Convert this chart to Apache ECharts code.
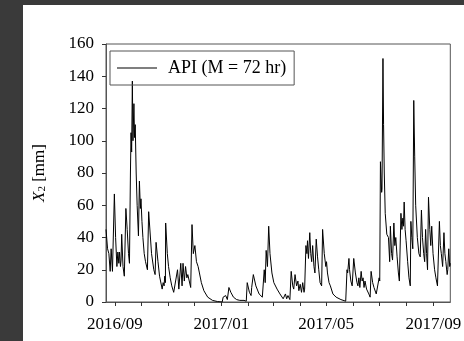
<!DOCTYPE html>
<html>
<head>
<meta charset="utf-8">
<script src="https://cdn.jsdelivr.net/npm/echarts@6/dist/echarts.min.js"></script>
<style>
	html, body { margin: 0; padding: 0; background: #3a3a3a; }
	#chart { position: absolute; left: 23px; top: 5px; width: 441px; height: 336px; background: #fff; }
</style>
</head>
<body>
<div id="chart"></div>
<script>
// days since 2016/09/01 and API value [mm]
var days = [-10.3, -8.5, -7.0, -5.5, -4.4, -2.9, -1.5, -0.7, 0.7, 2.2, 3.3, 4.4, 5.2, 6.3, 7.0, 7.7, 9.2, 10.7, 12.5, 14.0,
	15.5, 16.6, 17.7, 18.4, 19.1, 19.9, 20.6, 21.7, 22.4, 23.2, 24.3, 25.4, 26.9, 28.0, 29.1, 29.8, 30.9, 32.0, 33.5, 35.0,
	37.2, 38.6, 41.9, 44.5, 46.0, 47.1, 49.3, 51.1, 54.1, 55.2, 56.3, 57.0, 57.8, 58.1, 60.0, 61.4, 63.3, 65.1, 67.3, 68.8,
	71.7, 73.2, 75.4, 76.9, 78.0, 79.5, 80.9, 82.4, 83.5, 86.8, 88.3, 89.8, 91.6, 93.4, 95.3, 96.8, 99.0, 101.9, 106.3, 111.8,
	117.4, 122.9, 124.0, 125.5, 126.9, 128.8, 130.6, 132.8, 135.8, 139.4, 143.1, 145.0, 147.9, 150.5, 151.6, 154.1, 156.0, 156.7, 158.6, 161.5,
	165.2, 168.9, 170.0, 171.1, 172.2, 173.3, 174.8, 176.2, 177.7, 179.9, 182.1, 183.6, 185.8, 189.1, 192.8, 194.6, 195.4, 196.8, 198.3, 200.5,
	202.0, 203.8, 204.9, 206.4, 208.2, 209.7, 210.8, 212.3, 213.8, 215.2, 216.7, 217.4, 218.9, 220.0, 220.7, 221.8, 223.3, 224.4, 225.5, 226.6,
	228.1, 229.2, 230.7, 232.2, 233.6, 235.1, 236.9, 238.0, 239.9, 241.7, 242.5, 243.6, 245.4, 246.9, 249.8, 253.5, 259.0, 264.5, 266.0, 266.7,
	268.2, 268.9, 270.4, 271.9, 273.7, 275.6, 277.4, 278.5, 279.6, 280.7, 282.2, 283.3, 284.4, 285.5, 286.6, 288.4, 291.0, 292.5, 293.6, 295.4,
	296.9, 299.5, 301.3, 302.8, 303.5, 304.3, 305.7, 306.1, 307.2, 307.9, 308.7, 309.8, 311.6, 313.5, 314.9, 315.7, 317.1, 318.2, 319.7, 320.8,
	321.9, 323.4, 324.9, 326.0, 327.8, 328.9, 330.0, 330.7, 331.5, 332.6, 333.7, 335.5, 337.0, 338.5, 339.2, 340.3, 341.4, 342.5, 343.6, 344.7,
	346.6, 348.4, 349.9, 351.3, 352.5, 353.9, 355.0, 356.1, 357.2, 358.3, 359.4, 360.9, 362.0, 363.1, 364.6, 366.4, 367.9, 369.7, 371.9, 373.0,
	374.1, 375.6, 377.1, 378.2, 379.3, 380.8, 381.5, 382.6, 383.7, 384.4];
var api = [45, 33, 30, 19, 33, 19, 18, 67, 40, 22, 31, 24, 31, 22, 26, 42, 22, 16, 58, 45,
	30, 24, 80, 105, 93, 137, 100, 123, 102, 110, 80, 60, 41, 75, 58, 64, 50, 40, 30, 25,
	20, 56, 30, 20, 17, 37, 25, 16, 8, 12, 10, 16, 12, 49, 30, 22, 15, 10, 6, 5,
	20, 8, 24, 10, 24, 13, 22, 15, 17, 9, 48, 30, 35, 25, 22, 18, 12, 7, 3, 1,
	0.3, 0, 3, 2, 4, 1.5, 9, 6, 3, 1.5, 1, 2, 1, 0.5, 12, 6, 4, 9, 17, 10,
	5, 3, 2, 20, 12, 32, 22, 47, 30, 18, 12, 13, 8, 5, 2, 3, 5, 2, 4, 1.5,
	19, 10, 8, 17, 10, 13, 7, 11, 6, 12, 6, 8, 35, 30, 38, 27, 43, 30, 25, 35,
	22, 18, 39, 28, 20, 12, 10, 45, 30, 22, 25, 18, 12, 10, 5, 3, 1.5, 0.5, 20, 18,
	27, 20, 13, 10, 27, 18, 12, 10, 15, 9, 19, 13, 15, 9, 13, 8, 5, 3, 19, 12,
	9, 5, 4, 15, 13, 87, 68, 70, 151, 110, 80, 55, 42, 40, 25, 47, 30, 26, 49, 35,
	40, 28, 18, 13, 55, 45, 52, 47, 62, 45, 38, 25, 15, 10, 50, 40, 33, 125, 90, 60,
	40, 30, 28, 57, 40, 30, 25, 45, 30, 20, 65, 45, 35, 47, 30, 20, 15, 10, 50, 35,
	30, 22, 43, 30, 25, 17, 20, 33, 22, 24];
var seriesName = 'API (M = 72 hr)';
var yTicks = [0, 160, 20];          // min, max, step
var tickMonths = 13;                // monthly ticks from 2016/09
var labelEvery = 4;                 // a label every 4 months

var font = "'Liberation Serif', 'Times New Roman', serif";
var DAY = 86400000;
var t0 = new Date(2016, 8, 1).getTime();

var data = [];
for(var i = 0; i < days.length; i++) {
	data.push([t0 + days[i] * DAY, api[i]]);
}
var monthTicks = [], monthLabels = [];
for(var m = 0; m < tickMonths; m++) {
	var t = new Date(2016, 8 + m, 1).getTime();
	monthTicks.push(t);
	if(m % labelEvery == 0) monthLabels.push(t);
}

var Chart = echarts.init(document.getElementById('chart'));
var option = {
	animation: false,
	backgroundColor: '#fff',
	textStyle: { fontFamily: font },
	grid: {
		left: 78, top: 39, right: 5, bottom: 39,
		show: true, borderColor: '#555', borderWidth: 1
	},
	legend: {
		data: [{ name: seriesName, icon: 'path://M0,0H40V1H0Z' }],
		left: 87, top: 46,
		itemWidth: 40, itemHeight: 14,
		padding: [8, 8, 8, 7],
		borderColor: '#555', borderWidth: 1,
		textStyle: { fontFamily: font, fontSize: 18, color: '#000', padding: [0, 0, 0, 6] }
	},
	xAxis: {
		type: 'value',
		min: t0 + days[0] * DAY,
		max: t0 + days[days.length - 1] * DAY,
		splitLine: { show: false },
		axisLine: { lineStyle: { color: '#555' } },
		axisTick: { show: true, inside: false, length: 4, customValues: monthTicks, lineStyle: { color: '#333' } },
		axisLabel: {
			customValues: monthLabels,
			fontFamily: font, fontSize: 17, color: '#000', margin: 14,
			formatter: function(v) {
				var d = new Date(v);
				var mm = d.getMonth() + 1;
				return d.getFullYear() + '/' + (mm < 10 ? '0' + mm : mm);
			}
		}
	},
	yAxis: {
		type: 'value',
		min: yTicks[0], max: yTicks[1], interval: yTicks[2],
		name: '{i|X}{s|2}{t| [mm]}',
		nameLocation: 'middle',
		nameGap: 58,
		nameRotate: 90,
		nameTextStyle: {
			rich: {
				i: { fontFamily: font, fontSize: 17, fontStyle: 'italic', color: '#000', verticalAlign: 'bottom', lineHeight: 20 },
				s: { fontFamily: font, fontSize: 11, color: '#000', verticalAlign: 'bottom', lineHeight: 14 },
				t: { fontFamily: font, fontSize: 17, color: '#000', verticalAlign: 'bottom', lineHeight: 20 }
			}
		},
		splitLine: { show: false },
		axisLine: { show: true, lineStyle: { color: '#555' } },
		axisTick: { show: true, inside: false, length: 4, lineStyle: { color: '#333' } },
		axisLabel: { fontFamily: font, fontSize: 17, color: '#000', margin: 12 }
	},
	series: [{
		name: seriesName,
		type: 'line',
		data: data,
		symbol: 'none',
		showSymbol: false,
		lineStyle: { color: '#000', width: 1 },
		itemStyle: { color: '#000' }
	}]
};
Chart.setOption(option);
</script>
</body>
</html>
